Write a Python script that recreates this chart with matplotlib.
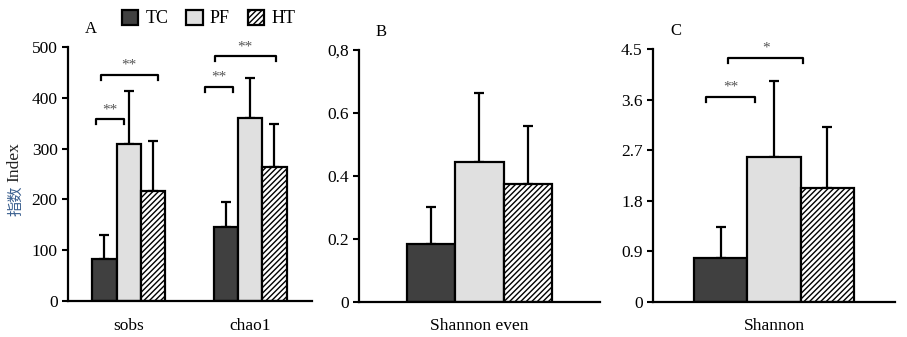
import numpy as np
import matplotlib.pyplot as plt
from matplotlib.patches import Patch

plt.rcParams['font.family'] = ['Liberation Serif', 'Noto Sans CJK SC']
plt.rcParams['font.size'] = 12.5
plt.rcParams['hatch.linewidth'] = 1.0

groups = ["TC", "PF", "HT"]
colors = ["#404040", "#e0e0e0", "white"]
hatches = [None, None, "//////"]

# panel A
cats_a = ["sobs", "chao1"]
mean_a = {"TC": [83, 146], "PF": [309, 360], "HT": [217, 264]}
err_a = {"TC": [47, 48], "PF": [104, 79], "HT": [98, 84]}
# panel B
cats_b = ["Shannon even"]
mean_b = {"TC": [0.183], "PF": [0.444], "HT": [0.375]}
err_b = {"TC": [0.118], "PF": [0.220], "HT": [0.183]}
# panel C
cats_c = ["Shannon"]
mean_c = {"TC": [0.78], "PF": [2.585], "HT": [2.03]}
err_c = {"TC": [0.55], "PF": [1.355], "HT": [1.09]}

# significance brackets: (x1, x2, height, label)
sig_a = [(-0.27, -0.04, 358, "**"), (-0.23, 0.24, 445, "**"),
         (0.63, 0.86, 422, "**"), (0.71, 1.21, 482, "**")]
sig_c = [(-0.28, -0.08, 3.65, "**"), (-0.19, 0.12, 4.35, "*")]


def draw(ax, cats, means, errs, width, ymax, ticks, ticklabels, label, sig, dy):
    x = np.arange(len(cats))
    for i, g in enumerate(groups):
        xi = x + (i - 1) * width
        ax.bar(xi, means[g], width, color=colors[i], edgecolor="black",
               linewidth=1.6, hatch=hatches[i], zorder=2)
        ax.errorbar(xi, means[g], yerr=[np.zeros(len(cats)), errs[g]],
                    fmt="none", ecolor="black", elinewidth=1.6,
                    capsize=3.5, capthick=1.6, zorder=1)
    ax.set_xticks(x)
    ax.set_xticklabels(cats)
    ax.tick_params(axis="x", length=0, pad=12)
    ax.tick_params(axis="y", length=4, width=1.5, direction="out")
    ax.set_ylim(0, ymax)
    ax.set_yticks(ticks)
    ax.set_yticklabels(ticklabels)
    for s in ["top", "right"]:
        ax.spines[s].set_visible(False)
    for s in ["left", "bottom"]:
        ax.spines[s].set_linewidth(1.6)
    ax.text(0.07, 1.04, label, transform=ax.transAxes, fontsize=12,
            ha="left", va="bottom")
    for x1, x2, h, t in sig:
        ax.plot([x1, x1, x2, x2], [h - dy, h, h, h - dy], color="black",
                lw=1.6, clip_on=False)
        ax.text((x1 + x2) / 2, h + dy * 0.6, t, ha="center", va="bottom",
                fontsize=11, color="#555555")


fig = plt.figure(figsize=(9.07, 3.37), dpi=100)
ax_a = fig.add_axes([0.075, 0.1068, 0.269, 0.7537])
ax_b = fig.add_axes([0.3958, 0.1048, 0.2657, 0.7468])
ax_c = fig.add_axes([0.72, 0.1048, 0.2668, 0.7489])

draw(ax_a, cats_a, mean_a, err_a, 0.2, 500, [0, 100, 200, 300, 400, 500],
     ["0", "100", "200", "300", "400", "500"], "A", sig_a, 10)
ax_a.set_xlim(-0.5, 1.51)
draw(ax_b, cats_b, mean_b, err_b, 0.2, 0.8, [0, 0.2, 0.4, 0.6, 0.8],
     ["0", "0.2", "0.4", "0.6", "0,8"], "B", [], 0.01)
ax_b.set_xlim(-0.5, 0.5)
draw(ax_c, cats_c, mean_c, err_c, 0.22, 4.5, [0, 0.9, 1.8, 2.7, 3.6, 4.5],
     ["0", "0.9", "1.8", "2.7", "3.6", "4.5"], "C", sig_c, 0.09)
ax_c.set_xlim(-0.5, 0.5)

fig.text(0.008, 0.36, "指数", rotation=90, ha="left", va="bottom",
         color="#3a5f8f", fontsize=11, family=["Noto Sans CJK SC"])
fig.text(0.007, 0.46, "Index", rotation=90, ha="left", va="bottom",
         color="#222222", fontsize=12.5)

handles = [Patch(facecolor=colors[i], edgecolor="black", linewidth=1.6,
                 hatch=hatches[i]) for i in range(3)]
fig.legend(handles, groups, loc="center", bbox_to_anchor=(0.23, 0.945),
           ncol=3, frameon=False, handlelength=0.9, handleheight=0.9,
           handletextpad=0.4, columnspacing=1.0, fontsize=13)

fig.savefig("out.png", dpi=100)
